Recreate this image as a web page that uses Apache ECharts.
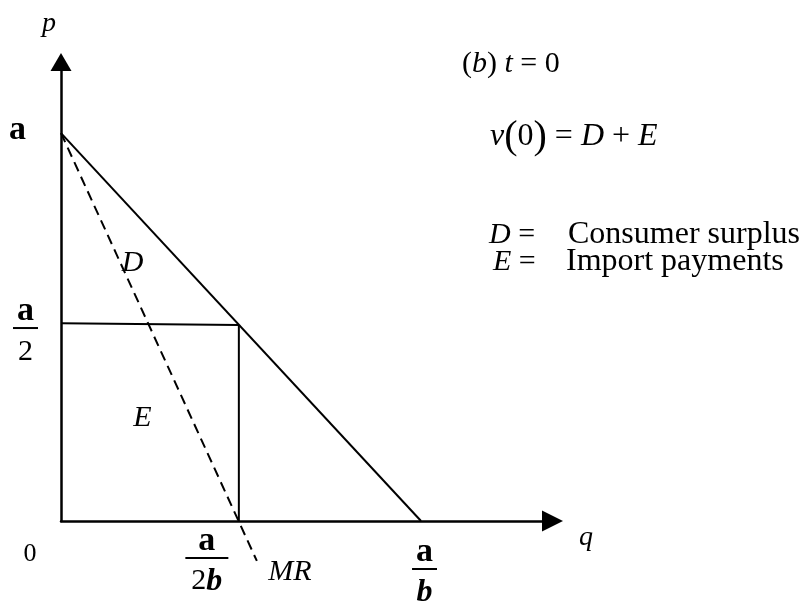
<!DOCTYPE html>
<html>
<head>
<meta charset="utf-8">
<script src="https://cdn.jsdelivr.net/npm/echarts@6/dist/echarts.min.js"></script>
<style>
html,body{margin:0;padding:0;background:#fff;}
#c{width:807px;height:606px;}
</style>
</head>
<body>
<div id="c"></div>
<script>
// ---- data (q measured in units of a/b, p in units of a) ----
const demandLine   = [[0, 1], [1, 0]];
const mrLine       = [[0, 1], [0.544, -0.103]];
const priceLine    = [[0, 0.51], [0.494, 0.505]];
const quantityLine = [[0.494, 0.505], [0.494, 0]];

const xTickValues = [0, 0.494, 1];
const xTickLabels = ['0', 'a/2b', 'a/b'];
const yTickValues = [0.5, 1];
const yTickLabels = ['a/2', 'a'];

const areaLabels   = ['D', 'E', 'MR'];
const areaLabelPos = [[0.199, 0.665], [0.226, 0.265], [0.636, -0.131]];

// ---- styling ----
const SERIF = '"Liberation Serif", "Times New Roman", serif';

const markup = {
  'a':    '{ya|a}{sp12|}\n{g6|}',
  'a/2':  '{g16|}\n{yn|a}\n{hr25|}\n{yd|2}',
  '0':    '{z|0}{sp62|}',
  'a/2b': '{xn|a}{sp64|}\n{hr43|}{sp64|}\n{xd|2}{xb|b}{sp64|}',
  'a/b':  '{g11|}\n{sp7|}{xn|a}\n{sp7|}{hr25|}\n{sp7|}{xb|b}'
};

const RICH = {
  ya:  {fontFamily: SERIF, fontWeight: 'bold', fontSize: 34, lineHeight: 30, align: 'center', color: '#000'},
  yn:  {fontFamily: SERIF, fontWeight: 'bold', fontSize: 34, lineHeight: 24, align: 'center', color: '#000'},
  yd:  {fontFamily: SERIF, fontSize: 30, lineHeight: 38, align: 'center', color: '#000'},
  xn:  {fontFamily: SERIF, fontWeight: 'bold', fontSize: 34, lineHeight: 23, align: 'center', color: '#000'},
  xd:  {fontFamily: SERIF, fontSize: 30, lineHeight: 37, align: 'center', color: '#000'},
  xb:  {fontFamily: SERIF, fontWeight: 'bold', fontStyle: 'italic', fontSize: 32, lineHeight: 37, align: 'center', color: '#000'},
  z:   {fontFamily: SERIF, fontSize: 26, lineHeight: 48, align: 'center', color: '#000'},
  hr25:{width: 25, height: 2, lineHeight: 10, backgroundColor: '#000'},
  hr43:{width: 43, height: 2, lineHeight: 10, backgroundColor: '#000'},
  sp7: {width: 7, lineHeight: 1, align: 'left'},
  sp12:{width: 12, lineHeight: 1, align: 'right'},
  sp62:{width: 62, lineHeight: 1, align: 'right'},
  sp64:{width: 64, lineHeight: 1, align: 'right'},
  g6:  {lineHeight: 6},
  g11: {lineHeight: 11},
  g16: {lineHeight: 16}
};

function labelFor(values, labels) {
  return function (v) {
    for (let i = 0; i < values.length; i++) {
      if (Math.abs(values[i] - v) < 1e-9) return markup[labels[i]];
    }
    return '';
  };
}

const GR = {
  r:  {fontFamily: SERIF, fontSize: 30, fill: '#000'},
  i:  {fontFamily: SERIF, fontStyle: 'italic', fontSize: 30, fill: '#000'},
  r2: {fontFamily: SERIF, fontSize: 32, fill: '#000'},
  i2: {fontFamily: SERIF, fontStyle: 'italic', fontSize: 32, fill: '#000'},
  bp: {fontFamily: SERIF, fontSize: 40, fill: '#000'},
  w:  {fontFamily: SERIF, fontSize: 32, fill: '#000'}
};

function gtext(x, y, text) {
  return {
    type: 'text', x: x, y: y, silent: true,
    style: {text: text, rich: GR, align: 'left', verticalAlign: 'middle',
            textAlign: 'left', textVerticalAlign: 'middle', fill: '#000'}
  };
}

const chart = echarts.init(document.getElementById('c'), null, {renderer: 'canvas'});

const option = {
  animation: false,
  backgroundColor: '#fff',
  textStyle: {fontFamily: SERIF, color: '#000'},
  grid: {left: 61, right: 265, top: 71, bottom: 85, containLabel: false, outerBoundsMode: 'none'},
  xAxis: {
    type: 'value', min: 0, max: 1.336,
    name: 'q', nameLocation: 'end', nameGap: 37, nameMoveOverlap: false,
    nameTextStyle: {fontFamily: SERIF, fontStyle: 'italic', fontSize: 28, color: '#000',
                    verticalAlign: 'top', lineHeight: 28, padding: [3, 0, 0, 0]},
    axisLine: {show: true, onZero: false, symbol: ['none', 'triangle'], symbolSize: [21, 21], symbolOffset: [0, 10.5],
               lineStyle: {color: '#000', width: 2.5}},
    axisTick: {show: false},
    splitLine: {show: false},
    axisLabel: {show: true, customValues: xTickValues, margin: 9, formatter: labelFor(xTickValues, xTickLabels), rich: RICH, color: '#000'}
  },
  yAxis: {
    type: 'value', min: 0, max: 1.16,
    name: 'p', nameLocation: 'end', nameGap: 33, nameMoveOverlap: false,
    nameTextStyle: {fontFamily: SERIF, fontStyle: 'italic', fontSize: 28, color: '#000', padding: [0, 24, 0, 0]},
    axisLine: {show: true, onZero: false, symbol: ['none', 'triangle'], symbolSize: [21, 18], symbolOffset: [0, 9],
               lineStyle: {color: '#000', width: 2.5}},
    axisTick: {show: false},
    splitLine: {show: false},
    axisLabel: {show: true, customValues: yTickValues, margin: 23, formatter: labelFor(yTickValues, yTickLabels), rich: RICH, color: '#000'}
  },
  series: [
    {type: 'line', data: demandLine, symbol: 'none', clip: false, silent: true,
     lineStyle: {color: '#000', width: 2}},
    {type: 'line', data: mrLine, symbol: 'none', clip: false, silent: true,
     lineStyle: {color: '#000', width: 2, type: [10, 6]}},
    {type: 'line', data: priceLine, symbol: 'none', clip: false, silent: true,
     lineStyle: {color: '#000', width: 2}},
    {type: 'line', data: quantityLine, symbol: 'none', clip: false, silent: true,
     lineStyle: {color: '#000', width: 2}},
    {type: 'scatter', symbolSize: 0, clip: false, silent: true,
     itemStyle: {color: '#000', opacity: 1},
     data: areaLabelPos.map(function (p, i) { return {value: p, name: areaLabels[i]}; }),
     label: {show: true, position: 'inside', formatter: '{b}', fontFamily: SERIF, fontStyle: 'italic', fontSize: 30,
             color: '#000', opacity: 1, textBorderWidth: 0}}
  ],
  graphic: [
    gtext(462, 64,  '{r|(}{i|b}{r|) }{i|t}{r| = 0}'),
    gtext(490, 137, '{i2|v}{bp|(}{r2|0}{bp|)}{r2| = }{i2|D}{r2| + }{i2|E}'),
    gtext(489, 235, '{i|D}{r| =}'),
    gtext(568, 235, '{w|Consumer surplus}'),
    gtext(493, 262, '{i|E}{r| =}'),
    gtext(566, 262, '{w|Import payments}')
  ]
};

chart.setOption(option);
</script>
</body>
</html>
